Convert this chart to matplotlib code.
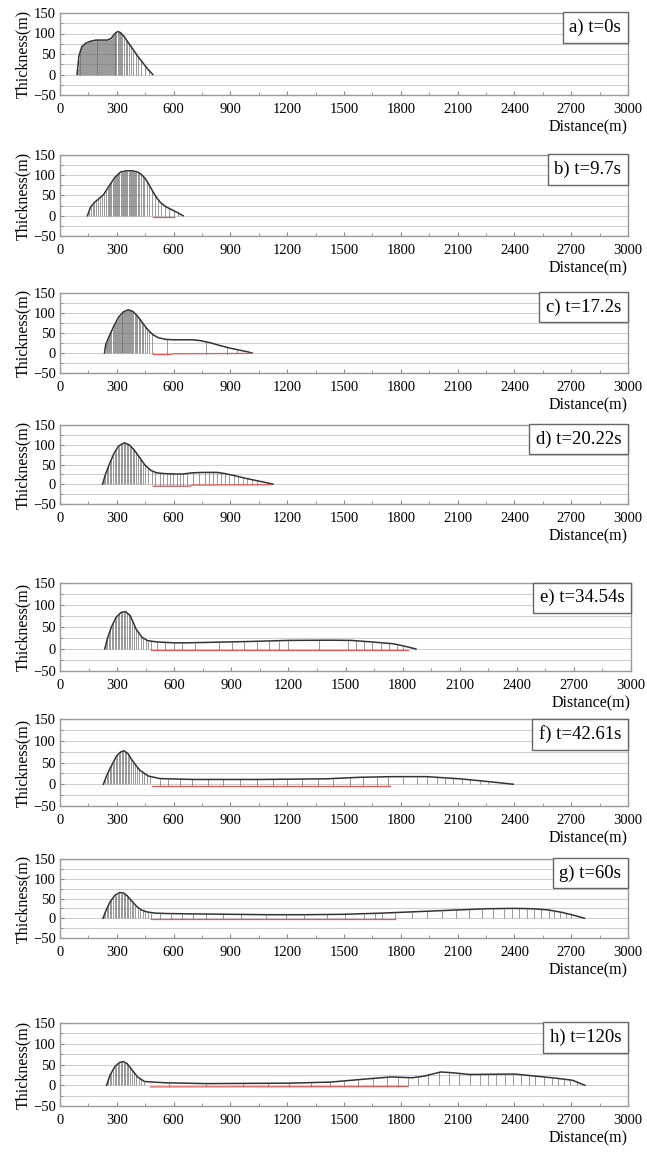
import numpy as np
import matplotlib
matplotlib.use("Agg")
import matplotlib.pyplot as plt
from matplotlib.ticker import MultipleLocator

plt.rcParams["font.family"] = ["Liberation Serif", "DejaVu Serif"]

# ------------------------------------------------------------------
# datos: superficie del flujo, columnas y lecho
# ------------------------------------------------------------------
a_label = "a) t=0s"
a_surf_x = [90, 100, 115, 135, 160, 190, 220, 250, 270, 290, 305, 320, 340, 360, 385, 410, 435, 460, 490]
a_surf_y = [0, 45, 68, 76, 81, 84, 84, 84, 88, 100, 105, 102, 92, 78, 62, 45, 30, 15, 0]
a_cols = [93, 98, 103, 108, 113, 118, 123, 128, 133, 138, 143, 148, 153, 158, 163, 168, 173, 178,
          183, 188, 193, 198, 203, 208, 213, 218, 223, 228, 233, 238, 243, 248, 253, 258, 263, 268,
          273, 278, 283, 288, 293, 298, 304, 310, 316, 323, 330, 338, 346, 355, 365, 376, 388, 400,
          414, 430, 448, 468]
a_bed_x = []
a_bed_y = []

b_label = "b) t=9.7s"
b_surf_x = [145, 160, 180, 200, 230, 260, 290, 320, 350, 380, 410, 430, 450, 470, 490, 510, 530, 560, 590, 620, 650]
b_surf_y = [0, 20, 32, 40, 52, 74, 95, 108, 111, 111, 108, 102, 92, 77, 60, 45, 33, 22, 15, 8, 0]
b_cols = [152, 162, 172, 182, 192, 202, 212, 222, 232, 242, 252, 260, 266, 272, 278, 284, 290, 296,
          302, 308, 314, 320, 326, 332, 338, 344, 350, 356, 362, 368, 374, 380, 386, 392, 398, 404,
          410, 418, 426, 436, 446, 458, 470, 484, 500, 516, 534, 554, 576, 600, 625]
b_bed_x = [490, 600]
b_bed_y = [-2, -2]

c_label = "c) t=17.2s"
c_surf_x = [235, 242, 260, 285, 310, 335, 360, 385, 410, 435, 460, 490, 520, 560, 600, 700, 740,
            790, 850, 900, 950, 990, 1015]
c_surf_y = [0, 22, 42, 68, 90, 103, 108, 104, 92, 76, 60, 46, 38, 34, 33, 33, 31, 26, 18, 12, 7, 3, 0]
c_cols = [242, 248, 254, 260, 266, 272, 278, 284, 290, 295, 300, 305, 310, 315, 320, 325, 330, 335,
          340, 345, 350, 355, 360, 365, 370, 376, 382, 388, 394, 400, 408, 416, 424, 432, 441, 450,
          458, 472, 487, 567, 771, 884, 933]
c_bed_x = [490, 500, 580, 600, 1015]
c_bed_y = [-2, -4, -4, -2, -1]

d_label = "d) t=20.22s"
d_surf_x = [225, 240, 260, 285, 310, 340, 365, 390, 420, 450, 480, 510, 550, 600, 650, 700, 760,
            830, 870, 920, 980, 1040, 1090, 1125]
d_surf_y = [0, 25, 50, 78, 97, 105, 100, 88, 68, 48, 35, 29, 27, 26, 26, 29, 30, 30, 27, 22, 15, 9, 4, 0]
d_cols = [232, 240, 248, 256, 264, 272, 280, 288, 296, 304, 312, 320, 328, 336, 344, 352, 360, 368,
          376, 384, 392, 400, 410, 420, 430, 440, 449, 466, 484, 502, 528, 546, 563, 581, 598, 616,
          634, 651, 669, 700, 735, 766, 787, 808, 830, 852, 873, 895, 917, 940, 965, 990, 1015, 1040]
d_bed_x = [491, 686, 700, 1110]
d_bed_y = [-5, -5, -2, -1]

e_label = "e) t=34.54s"
e_surf_x = [235, 250, 270, 295, 320, 345, 370, 400, 430, 460, 510, 600, 660, 770, 990, 1200, 1420,
            1530, 1640, 1750, 1815, 1870]
e_surf_y = [0, 25, 50, 72, 83, 85, 75, 45, 27, 19, 16, 14, 14, 15, 17, 19.5, 20, 19.5, 16, 12, 6, 0]
e_cols = [240, 248, 256, 264, 272, 280, 288, 296, 304, 312, 320, 328, 336, 344, 352, 360, 370, 380,
          390, 400, 412, 424, 436, 450, 464, 478, 511, 554, 598, 641, 707, 837, 902, 967, 1033, 1098,
          1152, 1196, 1359, 1511, 1554, 1598, 1641, 1685, 1728, 1772, 1804]
e_bed_x = [478, 1826]
e_bed_y = [-3, -3]

f_label = "f) t=42.61s"
f_surf_x = [229, 245, 264, 299, 320, 338, 360, 378, 400, 422, 466, 528, 704, 1056, 1408, 1584,
            1760, 1936, 2112, 2288, 2394]
f_surf_y = [0, 18, 36, 65, 74, 77, 70, 57, 44, 32, 19, 13, 11, 11, 12.5, 16, 17.5, 17.5, 12.5, 5, 0]
f_cols = [238, 246, 254, 262, 270, 278, 286, 294, 302, 310, 318, 326, 334, 342, 350, 358, 366, 375,
          385, 395, 406, 418, 431, 445, 460, 475, 528, 572, 634, 695, 783, 862, 950, 1038, 1126,
          1197, 1276, 1364, 1443, 1531, 1602, 1672, 1734, 1813, 1883, 1936, 1989, 2033, 2077, 2121,
          2165, 2218, 2262]
f_bed_x = [484, 1742]
f_bed_y = [-3, -3]

g_label = "g) t=60s"
g_surf_x = [227, 245, 265, 290, 315, 335, 355, 380, 405, 430, 460, 500, 560, 700, 900, 1100, 1300,
            1500, 1700, 1900, 2100, 2250, 2400, 2500, 2580, 2650, 2710, 2770]
g_surf_y = [0, 22, 42, 58, 65, 64, 57, 43, 30, 21, 16, 13, 12, 11, 10, 9, 9, 10, 13, 17, 21, 24, 25,
            24, 21, 15, 8, 0]
g_cols = [232, 240, 248, 256, 264, 272, 280, 288, 296, 304, 312, 320, 328, 336, 344, 352, 360, 369,
          378, 388, 398, 410, 422, 436, 450, 466, 482, 528, 587, 645, 704, 773, 861, 958, 1086, 1193,
          1291, 1408, 1506, 1604, 1663, 1702, 1770, 1858, 1936, 2015, 2093, 2161, 2230, 2289, 2347,
          2386, 2425, 2465, 2504, 2543, 2582, 2611, 2641, 2670, 2699]
g_bed_x = [479, 1770]
g_bed_y = [-3, -3]

h_label = "h) t=120s"
h_surf_x = [246, 265, 290, 315, 335, 355, 380, 410, 446, 554, 772, 1207, 1424, 1641, 1750, 1859,
            1924, 2011, 2076, 2163, 2402, 2511, 2620, 2707, 2772]
h_surf_y = [0, 25, 45, 55, 57, 52, 37, 20, 9, 6, 4, 5, 7.5, 16, 20, 18, 22, 32, 30, 26, 27, 22, 17, 12, 0]
h_cols = [248, 256, 264, 272, 280, 288, 296, 304, 312, 320, 328, 336, 344, 352, 361, 370, 380, 391,
          403, 416, 430, 446, 576, 772, 967, 1098, 1207, 1326, 1424, 1500, 1576, 1652, 1728, 1783,
          1837, 1891, 1946, 2000, 2054, 2109, 2163, 2217, 2261, 2304, 2348, 2391, 2435, 2478, 2511,
          2554, 2598, 2630, 2663, 2696, 2728]
h_bed_x = [478, 1837]
h_bed_y = [-4, -3]

PANELS = [
    (a_label, a_surf_x, a_surf_y, a_cols, a_bed_x, a_bed_y),
    (b_label, b_surf_x, b_surf_y, b_cols, b_bed_x, b_bed_y),
    (c_label, c_surf_x, c_surf_y, c_cols, c_bed_x, c_bed_y),
    (d_label, d_surf_x, d_surf_y, d_cols, d_bed_x, d_bed_y),
    (e_label, e_surf_x, e_surf_y, e_cols, e_bed_x, e_bed_y),
    (f_label, f_surf_x, f_surf_y, f_cols, f_bed_x, f_bed_y),
    (g_label, g_surf_x, g_surf_y, g_cols, g_bed_x, g_bed_y),
    (h_label, h_surf_x, h_surf_y, h_cols, h_bed_x, h_bed_y),
]

# posicion de cada panel en pixeles: (izq, der, arriba, abajo)
W, H = 647, 1159
CAJAS_PX = [
    (60, 628, 13, 95),
    (60, 628, 155, 236),
    (60, 628, 293, 373),
    (60, 628, 425, 504),
    (60, 631, 583, 671),
    (60, 628, 719, 806),
    (60, 628, 859, 938),
    (60, 628, 1023, 1106),
]

fig = plt.figure(figsize=(W / 100, H / 100), dpi=100)

for (label, sx, sy, cols, bx, by), (x0, x1, y0, y1) in zip(PANELS, CAJAS_PX):
    ax = fig.add_axes([x0 / W, 1 - y1 / H, (x1 - x0) / W, (y1 - y0) / H])
    ax.set_xlim(0, 3000)
    ax.set_ylim(-50, 150)

    # rejilla horizontal cada 25 m
    for yv in np.arange(-50, 151, 25):
        ax.axhline(yv, color="#cfcfcf", lw=0.8, zorder=0)

    # columnas verticales (desde el lecho hasta la superficie)
    cols = np.asarray(cols, dtype=float)
    top = np.interp(cols, sx, sy)
    if len(bx):
        base = np.interp(cols, bx, by, left=0, right=0)
    else:
        base = np.zeros_like(cols)
    ax.vlines(cols, base, top, color="#707070", lw=0.5, zorder=2)

    ax.plot(sx, sy, color="#333333", lw=1.1, zorder=3)
    if len(bx):
        ax.plot(bx, by, color="#e05a5a", lw=0.9, zorder=3)

    for s in ax.spines.values():
        s.set_color("#9a9a9a")
        s.set_linewidth(1.0)

    ax.xaxis.set_major_locator(MultipleLocator(300))
    ax.xaxis.set_minor_locator(MultipleLocator(150))
    ax.yaxis.set_major_locator(MultipleLocator(50))
    ax.yaxis.set_minor_locator(MultipleLocator(25))
    ax.tick_params(which="both", direction="in", color="#888888", labelsize=10.5, pad=3)
    ax.tick_params(which="major", length=3)
    ax.tick_params(which="minor", length=2)
    ax.tick_params(axis="x", pad=6)

    ax.set_ylabel("Thickness(m)", fontsize=11.5, labelpad=1)
    ax.set_xlabel("Distance(m)", fontsize=11.5, loc="right", labelpad=2)

    ax.text(0.988, 0.93, label, transform=ax.transAxes, ha="right", va="top", fontsize=13.5,
            bbox=dict(boxstyle="square,pad=0.35", facecolor="white", edgecolor="#666666", lw=1.0),
            zorder=5)

fig.savefig("out.png", dpi=100)
